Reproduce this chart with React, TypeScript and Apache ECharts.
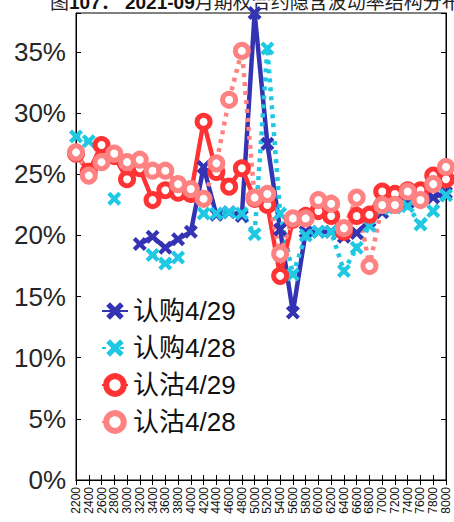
import React, { useEffect, useRef } from 'react';
import * as echarts from 'echarts';

const strikes = ['2200','2400','2600','2800','3000','3200','3400','3600','3800','4000','4200','4400','4600','4800','5000','5200','5400','5600','5800','6000','6200','6400','6600','6800','7000','7200','7400','7600','7800','8000'];

// values in percent
const call0429 = [null,null,null,null,null,19.3,19.9,19.0,19.7,20.3,25.6,21.7,21.9,21.6,38.2,27.5,20.5,13.7,20.3,20.3,20.3,19.9,20.2,21.2,21.9,22.4,22.7,22.9,23.1,23.5];
const call0428 = [28.1,27.7,null,23.0,null,null,18.4,17.7,18.2,null,21.8,21.8,21.9,21.8,20.1,35.3,21.8,16.8,20.0,20.3,20.3,17.1,19.0,20.8,22.2,22.3,22.4,20.9,22.0,23.3];
const put0429 = [26.7,25.2,27.4,26.5,24.6,25.5,22.9,23.7,23.5,23.4,29.3,25.2,24.0,25.5,23.0,22.5,16.7,21.3,21.6,22.0,21.6,20.3,21.6,21.7,23.6,23.4,23.7,23.7,24.9,24.6];
const put0428 = [26.8,24.9,26.0,26.7,26.0,26.2,25.3,25.3,24.2,23.8,23.0,25.9,31.1,35.1,23.1,23.4,18.5,21.4,21.4,22.9,22.6,20.6,23.1,17.5,22.5,22.5,23.6,22.9,24.2,25.6];

const seriesNames = ['认购4/29', '认购4/28', '认沽4/29', '认沽4/28'];
const yMin = 0;
const yMax = 38.2;
const yStep = 5;

const FONT = "'Liberation Sans', Arial, 'Noto Sans CJK SC', sans-serif";
const X_SYMBOL = 'path://M0,3L3,0L7,4L11,0L14,3L10,7L14,11L11,14L7,10L3,14L0,11L4,7Z';

export default function App() {
  const ref = useRef<HTMLDivElement>(null);
  useEffect(() => {
    document.body.style.margin = '0';
    const chart = echarts.init(ref.current!, null, { renderer: 'svg' });
    const grid = { left: 76, right: 8, top: 13, bottom: 42 };
    const fmt = (v: number) => (Math.abs(v / yStep - Math.round(v / yStep)) < 1e-6 ? `${Math.round(v)}%` : '');
    const xSeries = (name: string, data: (number | null)[], color: string, dotted: boolean) => ({
      name,
      type: 'line',
      data,
      symbol: X_SYMBOL,
      symbolSize: 14,
      showAllSymbol: true,
      lineStyle: { color, width: 4.5, type: dotted ? [4, 5] : 'solid', cap: 'butt' },
      itemStyle: { color, borderWidth: 0 },
    });
    const oSeries = (name: string, data: (number | null)[], color: string, dotted: boolean) => ({
      name,
      type: 'line',
      data,
      symbol: 'circle',
      symbolSize: 13,
      showAllSymbol: true,
      lineStyle: { color, width: 4.5, type: dotted ? [4, 5] : 'solid', cap: 'butt' },
      itemStyle: { color: '#ffffff', borderColor: color, borderWidth: 5 },
    });
    chart.setOption({
      animation: false,
      backgroundColor: '#ffffff',
      textStyle: { fontFamily: FONT },
      grid: { ...grid, show: true, borderColor: '#000', borderWidth: 1, backgroundColor: 'transparent' },
      graphic: [
        {
          type: 'text',
          x: 50,
          y: -7,
          style: {
            text: '{a|图}{b|107： 2021-09}{a|月期权合约隐含波动率结构分布}',
            rich: {
              a: { fontSize: 19, fontFamily: FONT, fill: '#222' },
              b: { fontSize: 19, fontFamily: FONT, fontWeight: 'bold', fill: '#111' },
            },
          },
        },
      ],
      legend: {
        orient: 'vertical',
        left: 96,
        top: 293,
        itemWidth: 26,
        itemHeight: 22,
        itemGap: 11,
        textStyle: { fontSize: 26, color: '#111', fontFamily: FONT },
        data: [
          { name: seriesNames[0] },
          { name: seriesNames[1] },
          { name: seriesNames[2], itemStyle: { borderWidth: 6 } },
          { name: seriesNames[3], itemStyle: { borderWidth: 6 } },
        ],
      },
      xAxis: [
        {
          type: 'category',
          data: strikes,
          boundaryGap: false,
          axisLine: { lineStyle: { color: '#000', width: 1 } },
          axisTick: { inside: true, length: 5, alignWithLabel: true, interval: 0, lineStyle: { color: '#000' } },
          axisLabel: { rotate: 90, interval: 0, fontSize: 12, color: '#111', margin: 7, fontFamily: FONT },
          splitLine: { show: false },
        },
        {
          type: 'category',
          data: strikes,
          position: 'top',
          boundaryGap: false,
          axisLine: { lineStyle: { color: '#000', width: 1 } },
          axisTick: { inside: true, length: 5, interval: 0, lineStyle: { color: '#000' } },
          axisLabel: { show: false },
          splitLine: { show: false },
        },
      ],
      yAxis: [
        {
          type: 'value',
          min: yMin,
          max: yMax,
          interval: yStep,
          axisLine: { show: true, lineStyle: { color: '#000', width: 1 } },
          axisTick: { show: true, inside: true, length: 5, lineStyle: { color: '#000' } },
          axisLabel: { fontSize: 26, color: '#262626', margin: 10, formatter: fmt, fontFamily: FONT },
          splitLine: { show: false },
        },
        {
          type: 'value',
          min: yMin,
          max: yMax,
          interval: yStep,
          position: 'right',
          axisLine: { show: true, lineStyle: { color: '#000', width: 1 } },
          axisTick: { show: true, inside: true, length: 5, lineStyle: { color: '#000' } },
          axisLabel: { show: false },
          splitLine: { show: false },
        },
      ],
      series: [
        xSeries(seriesNames[0], call0429, '#3333B3', false),
        xSeries(seriesNames[1], call0428, '#1FC8E3', true),
        oSeries(seriesNames[2], put0429, '#FF3333', false),
        oSeries(seriesNames[3], put0428, '#FF8282', true),
      ],
    });
    return () => chart.dispose();
  }, []);
  return <div ref={ref} style={{ width: 454, height: 522 }} />;
}
